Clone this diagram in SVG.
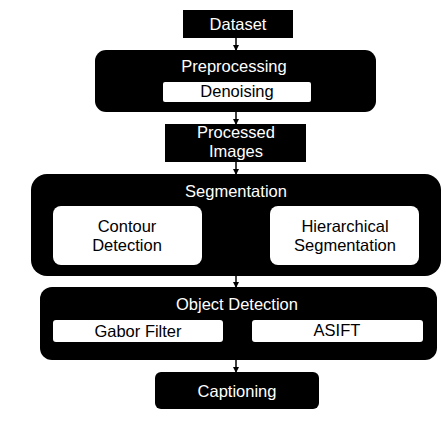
<svg xmlns="http://www.w3.org/2000/svg" width="446" height="422" viewBox="0 0 446 422">
<defs>
<marker id="ah" viewBox="0 0 6 6" refX="5" refY="3" markerWidth="6" markerHeight="6" markerUnits="userSpaceOnUse" orient="auto"><path d="M0,0 L6,3 L0,6 z" fill="#000"/></marker>
</defs>
<style>
.blk{fill:#000}
.wht{fill:#fff}
.tw{fill:#fff;font-family:"Liberation Sans",Arial,sans-serif;font-size:16.5px;text-anchor:middle}
.tb{fill:#000;font-family:"Liberation Sans",Arial,sans-serif;font-size:16.5px;text-anchor:middle}
.c{stroke:#000;stroke-width:1.5;fill:none;marker-end:url(#ah)}
</style>
<rect width="446" height="422" fill="#fff"/>
<g id="connectors">
<line class="c" x1="236" y1="38" x2="236" y2="50"/>
<line class="c" x1="236" y1="112" x2="236" y2="124"/>
<line class="c" x1="236" y1="162" x2="236" y2="174"/>
<line class="c" x1="236" y1="276" x2="236" y2="287"/>
<line class="c" x1="236" y1="360" x2="236" y2="372"/>
</g>
<g id="dataset">
<rect class="blk" x="183" y="10" width="110" height="28"/>
<text class="tw" x="238" y="30">Dataset</text>
</g>
<g id="preprocessing">
<rect class="blk" x="95" y="50" width="281" height="62" rx="11"/>
<text class="tw" x="234" y="72">Preprocessing</text>
</g>
<g id="denoising">
<rect class="wht" x="163" y="82" width="148" height="20" rx="2"/>
<text class="tb" x="237" y="97">Denoising</text>
</g>
<g id="processed">
<rect class="blk" x="165" y="124" width="141" height="38"/>
<text class="tw" x="236" y="138">Processed</text>
<text class="tw" x="236" y="157">Images</text>
</g>
<g id="segmentation">
<rect class="blk" x="31" y="174" width="410" height="102" rx="16"/>
<text class="tw" x="236" y="197">Segmentation</text>
</g>
<g id="contour">
<rect class="wht" x="53" y="206" width="149" height="59" rx="8"/>
<text class="tb" x="127" y="232">Contour</text>
<text class="tb" x="127" y="251">Detection</text>
</g>
<g id="hierarchical">
<rect class="wht" x="270" y="206" width="149" height="59" rx="8"/>
<text class="tb" x="345" y="232">Hierarchical</text>
<text class="tb" x="345" y="251">Segmentation</text>
</g>
<g id="objdet">
<rect class="blk" x="40" y="287" width="397" height="73" rx="12"/>
<text class="tw" x="237" y="310">Object Detection</text>
</g>
<g id="gabor">
<rect class="wht" x="53" y="320" width="170" height="22" rx="3"/>
<text class="tb" x="138" y="337">Gabor Filter</text>
</g>
<g id="asift">
<rect class="wht" x="252" y="320" width="171" height="22" rx="3"/>
<text class="tb" x="337" y="336">ASIFT</text>
</g>
<g id="captioning">
<rect class="blk" x="155" y="372" width="164" height="37" rx="6"/>
<text class="tw" x="237" y="397">Captioning</text>
</g>
</svg>
